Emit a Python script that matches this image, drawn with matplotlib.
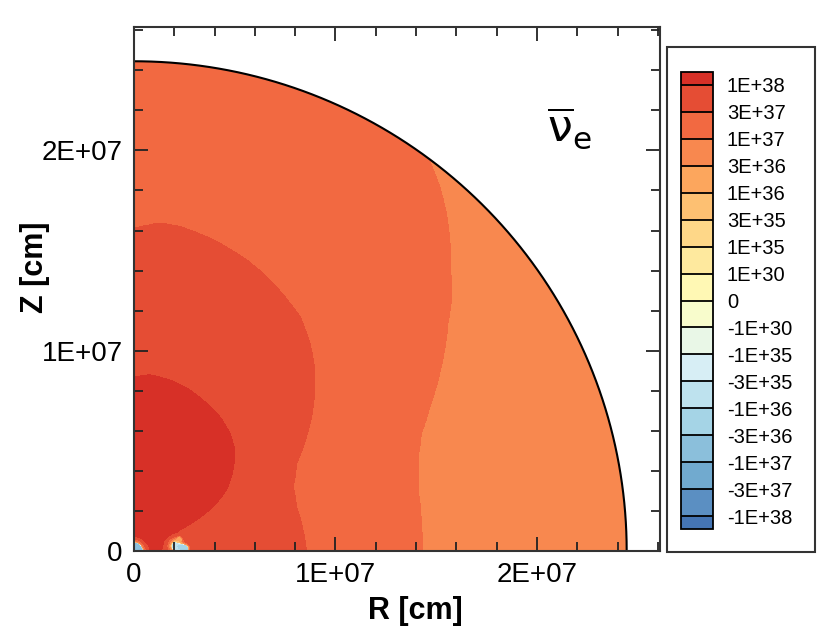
import matplotlib
matplotlib.use('Agg')
import matplotlib.pyplot as plt
import numpy as np
from matplotlib.colors import LinearSegmentedColormap, BoundaryNorm
from matplotlib.patches import Circle, Rectangle
from matplotlib.ticker import MultipleLocator

# contour levels shown in the legend (bottom -> top)
levels = [-1e38, -3e37, -1e37, -3e36, -1e36, -3e35, -1e35, -1e30, 0,
          1e30, 1e35, 3e35, 1e36, 3e36, 1e37, 3e37, 1e38]
level_labels = ['-1E+38', '-3E+37', '-1E+37', '-3E+36', '-1E+36', '-3E+35', '-1E+35',
                '-1E+30', '0', '1E+30', '1E+35', '3E+35', '1E+36', '3E+36', '1E+37',
                '3E+37', '1E+38']
palette = ['#4575b4', '#74add1', '#abd9e9', '#e0f3f8', '#ffffbf',
           '#fee090', '#fdae61', '#f46d43', '#d73027']

# axis ticks
ticks = [0, 1e7, 2e7]
tick_labels = ['0', '1E+07', '2E+07']

# outer radius of the data region [1e7 cm]
r_edge = 2.445

# contour boundaries, R and Z in units of 1e7 cm
# 1E+38 contour
A_R = [0.129, 0.162, 0.228, 0.311, 0.393, 0.459, 0.492, 0.501, 0.476, 0.426,
       0.361, 0.278, 0.178, 0.079, 0.0]
A_Z = [0.0, 0.055, 0.105, 0.155, 0.221, 0.304, 0.404, 0.504, 0.588, 0.671,
       0.737, 0.804, 0.854, 0.880, 0.869]
# 3E+37 contour
B_R = [0.856, 0.839, 0.807, 0.790, 0.807, 0.856, 0.881, 0.897, 0.897, 0.873,
       0.823, 0.757, 0.674, 0.559, 0.393, 0.228, 0.129, 0.0]
B_Z = [0.0, 0.105, 0.221, 0.321, 0.438, 0.571, 0.670, 0.804, 0.904, 1.037,
       1.170, 1.257, 1.353, 1.453, 1.553, 1.619, 1.636, 1.611]
# 1E+37 contour
C_R = [1.429, 1.426, 1.410, 1.410, 1.426, 1.468, 1.517, 1.558, 1.575, 1.572,
       1.567, 1.550, 1.517, 1.468]
C_Z = [0.0, 0.138, 0.305, 0.471, 0.588, 0.720, 0.887, 1.137, 1.257, 1.388,
       1.553, 1.686, 1.819, 1.944]

# log10 values at centre and outer edge
log_center = 38.3
log_outer = 36.6

# small negative patches near the equator
blob_R = [0.0, 0.21, 0.255, 0.225]
blob_Z = [0.0, 0.025, 0.012, 0.06]
blob_size = [0.075, 0.055, 0.03, 0.02]
blob_val = [-1e37, -1e36, -3e36, 1e36]


def boundary_radius(bR, bZ, theta, right):
    bR = np.asarray(bR)
    bZ = np.asarray(bZ)
    th = np.arctan2(bZ, bR)
    rr = np.hypot(bR, bZ)
    order = np.argsort(th)
    return np.interp(theta, th[order], rr[order], right=right)


# build the field on a grid
x = np.linspace(0, 2.61, 800)
z = np.linspace(0, 2.61, 800)
X, Z = np.meshgrid(x, z)
r = np.hypot(X, Z)
theta = np.arctan2(Z, X)

rA = boundary_radius(A_R, A_Z, theta, None)
rB = boundary_radius(B_R, B_Z, theta, None)
rC = boundary_radius(C_R, C_Z, theta, 10.0)

lA, lB, lC = np.log10(levels[16]), np.log10(levels[15]), np.log10(levels[14])
L = np.where(r < rA, log_center + (lA - log_center) * r / rA,
     np.where(r < rB, lA + (lB - lA) * (r - rA) / (rB - rA),
      np.where(r < rC, lB + (lC - lB) * (r - rB) / (rC - rB),
               lC + (log_outer - lC) * (r - rC) / 1.5)))
F = 10.0 ** L
for bx, bz, bs, bv in zip(blob_R, blob_Z, blob_size, blob_val):
    w = np.exp(-(((X - bx) ** 2 + (Z - bz) ** 2) / bs ** 2) ** 3)
    F = F * (1 - w) + bv * w

plt.rcParams['font.family'] = ['Liberation Sans', 'DejaVu Sans']
plt.rcParams['mathtext.fontset'] = 'dejavusans'

fig = plt.figure(figsize=(8.3, 6.34), dpi=100)
ax = fig.add_axes([0.1614, 0.1309, 0.6337, 0.8265])

cmap = LinearSegmentedColormap.from_list('rdylbu', palette).resampled(18)
norm = BoundaryNorm(levels, 18, extend='both')

cs = ax.contourf(X * 1e7, Z * 1e7, F, levels=levels, cmap=cmap, norm=norm, extend='both')
clip = Circle((0, 0), r_edge * 1e7, transform=ax.transData, facecolor='none', edgecolor='none')
ax.add_patch(clip)
cs.set_clip_path(clip)

arc = np.linspace(0, np.pi / 2, 400)
ax.plot(r_edge * 1e7 * np.cos(arc), r_edge * 1e7 * np.sin(arc), color='black', lw=1.5)

ax.set_xlim(0, 2.61e7)
ax.set_ylim(0, 2.616e7)
ax.set_xticks(ticks)
ax.set_xticklabels(tick_labels)
ax.set_yticks(ticks)
ax.set_yticklabels(tick_labels)
ax.xaxis.set_minor_locator(MultipleLocator(2e6))
ax.yaxis.set_minor_locator(MultipleLocator(2e6))
ax.tick_params(which='both', direction='in', top=True, right=True, width=1.3, color='#222222')
ax.tick_params(which='major', length=10, labelsize=20, pad=8)
ax.tick_params(which='minor', length=6.5)
for s in ax.spines.values():
    s.set_linewidth(1.5)
    s.set_color('#333333')

ax.set_xlabel('R [cm]', fontsize=22, fontweight='bold')
ax.set_ylabel('Z [cm]', fontsize=22, fontweight='bold')
ax.xaxis.set_label_coords(0.5355, -0.085)
ax.yaxis.set_label_coords(-0.16, 0.542)

ax.text(0.827, 0.807, r'$\overline{\mathrm{ν}}_{\mathrm{e}}$', transform=ax.transAxes,
        fontsize=32, ha='center', va='center')

# legend frame and colour bar
fig.patches.append(Rectangle((0.8036, 0.1293), 0.1783, 0.7965, transform=fig.transFigure,
                             fill=False, edgecolor='#333333', lw=1.5))
cax = fig.add_axes([0.8205, (634 - 529) / 634, 0.0386, 457 / 634])
cb = fig.colorbar(cs, cax=cax, ticks=levels, spacing='uniform', extendfrac=0.03,
                  extendrect=True, drawedges=True)
cb.ax.set_yticklabels(level_labels)
cb.ax.tick_params(length=0, labelsize=14.5, pad=10)
cb.outline.set_linewidth(1.3)
cb.outline.set_edgecolor('black')
cb.dividers.set_linewidth(1.3)
cb.dividers.set_color('black')

fig.savefig('out.png', dpi=100)
